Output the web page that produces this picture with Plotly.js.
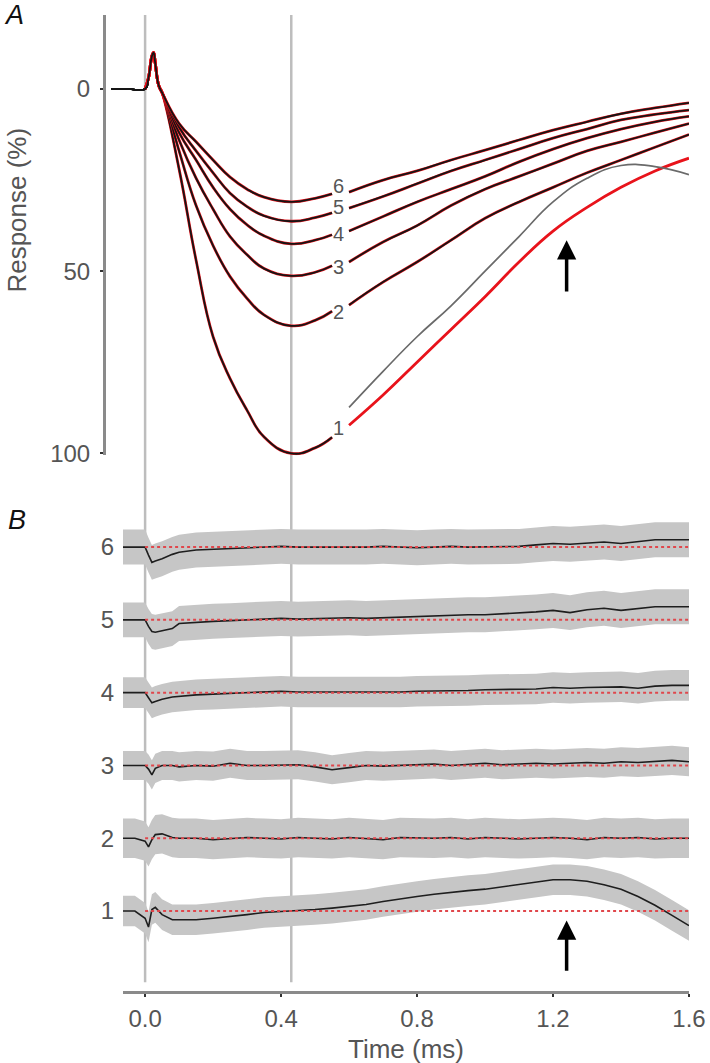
<!DOCTYPE html>
<html>
<head>
<meta charset="utf-8">
<script src="https://cdn.plot.ly/plotly-3.0.1.min.js"></script>
<style>
  html, body { margin: 0; padding: 0; background: #fff; }
  #fig { width: 710px; height: 1063px; }
</style>
</head>
<body>
<div id="fig"></div>
<script>
"use strict";

// panel A : temps (ms), la valeur null coupe la courbe là où le chiffre est posé
var tTop = [-0.1, -0.05, 0, 0.01, 0.02, 0.025, 0.03, 0.04, 0.05, 0.1, 0.15, 0.2, 0.25, 0.3, 0.35, 0.43, 0.5, 0.55,
            0.575, 0.6, 0.7, 0.8, 0.9, 1.0, 1.1, 1.2, 1.3, 1.4, 1.5, 1.6];

// ajustements (rouge), réponse en %
var fit1 = [null, null, 0, -3, -9, -10, -7, -1, 1, 22, 47, 68, 79.5, 88.2, 95.5, 100, 98.5, 95.6,
            null, 92.3, 84, 75, 66, 57, 47.5, 39, 32.5, 27, 22.5, 19];
var fit2 = [null, null, 0, -3, -9, -10, -7, -1, 1, 17, 32, 43, 51.5, 57.5, 62, 65, 63.5, 61,
            null, 59.3, 53, 47.5, 41.5, 35.5, 31, 27, 23, 19.5, 16, 12.5];
var fit3 = [null, null, 0, -3, -9, -10, -7, -1, 1, 14, 24.5, 33, 40.5, 45.5, 49.3, 51.3, 50.3, 48.5,
            null, 47.5, 42, 37.5, 32, 27.5, 24, 20.5, 17, 14.5, 12, 9.5];
var fit4 = [null, null, 0, -3, -9, -10, -7, -1, 1, 12, 19.5, 27, 33, 37.3, 40.3, 42.5, 41.5, 40,
            null, 39, 35, 31, 27.5, 24, 20, 16.5, 13.5, 11, 9, 7.5];
var fit5 = [null, null, 0, -3, -9, -10, -7, -1, 1, 10.5, 17, 23, 28.6, 32.3, 34.8, 36.3, 35.3, 34,
            null, 32.7, 29.5, 26, 22.5, 19.5, 16.5, 13.5, 11, 8.5, 7, 5.8];
var fit6 = [null, null, 0, -3, -9, -10, -7, -1, 1, 9.5, 14.5, 19.5, 24.2, 27.5, 29.7, 31, 30, 28.8,
            null, 28.3, 25, 22.5, 19.5, 16.8, 14, 11.3, 9, 6.8, 5.2, 3.8];

// données mesurées (noir) ; seule la courbe 1 s'écarte de son ajustement
var data1 = [0, 0, 0, -3, -9, -10, -7, -1, 1, 22, 47, 68, 79.5, 88.2, 95.5, 100, 98.5, 95.6,
             null, 87.4, 77.5, 68, 59.5, 50, 40.5, 31, 24.5, 21, 21.3, 23.5];
var data2 = [0, 0].concat(fit2.slice(2));
var data3 = [0, 0].concat(fit3.slice(2));
var data4 = [0, 0].concat(fit4.slice(2));
var data5 = [0, 0].concat(fit5.slice(2));
var data6 = [0, 0].concat(fit6.slice(2));

var curveNames = ['1', '2', '3', '4', '5', '6'];
var labelT = 0.568;
var labelY = [93.1, 61.3, 48.9, 39.8, 32.4, 26.6];

// panel B : résidus (données - ajustement) et écart-type, en %
var tRes = [-0.065, -0.03, 0, 0.01, 0.02, 0.03, 0.05, 0.08, 0.1,
            0.15, 0.2, 0.25, 0.3, 0.35, 0.4, 0.45, 0.5, 0.55, 0.6, 0.65, 0.7, 0.75, 0.8, 0.85, 0.9, 0.95,
            1.0, 1.05, 1.1, 1.15, 1.2, 1.25, 1.3, 1.35, 1.4, 1.45, 1.5, 1.55, 1.6];
var res1 = [0, 0, -1.0, -2.2, 0.2, 0.5, -0.5, -1.2, -1.2,
            -1.2, -1.0, -0.8, -0.5, -0.2, -0.1, 0.1, 0.2, 0.4, 0.6, 0.9, 1.3, 1.7, 2.0, 2.3, 2.6, 2.8,
            3.0, 3.3, 3.6, 4.0, 4.3, 4.3, 4.1, 3.6, 3.0, 2.0, 0.8, -0.6, -2.0];
var res2 = [0, 0, -0.4, -1.2, -0.2, 0.5, 0.6, 0.1, 0,
            0, -0.2, 0, 0.1, 0, -0.1, 0.1, 0, -0.1, 0.1, 0, -0.2, 0.1, 0, 0, 0.1, -0.1,
            0.1, 0, -0.1, 0, 0.1, 0, -0.2, 0.1, 0, 0.1, -0.1, 0, 0];
var res3 = [0, 0, 0, -0.5, -1.3, -0.4, 0, 0, -0.2,
            0, -0.1, 0.3, 0, 0, 0, 0.1, -0.2, -0.6, -0.3, 0, -0.1, 0, 0.1, 0.2, 0, 0.1,
            0.3, 0.1, 0.2, 0.3, 0.2, 0.3, 0.4, 0.3, 0.5, 0.4, 0.5, 0.7, 0.5];
var res4 = [0, 0, 0, -0.7, -1.4, -1.2, -0.9, -0.6, -0.5,
            -0.3, -0.2, -0.1, 0, 0, 0.2, 0.1, 0.1, 0.1, 0.1, 0, 0.1, 0.1, 0.2, 0.2, 0.2, 0.3,
            0.4, 0.4, 0.5, 0.5, 0.7, 0.6, 0.7, 0.8, 0.8, 0.6, 0.9, 1.0, 1.0];
var res5 = [0, 0, 0, -0.9, -1.6, -1.7, -1.5, -1.2, -0.5,
            -0.3, -0.2, -0.1, 0, 0, 0.2, 0.1, 0.2, 0.3, 0.3, 0.2, 0.3, 0.4, 0.4, 0.5, 0.6, 0.7,
            0.7, 0.8, 0.9, 1.1, 1.3, 1.0, 1.4, 1.6, 1.3, 1.5, 1.8, 1.8, 1.8];
var res6 = [0, 0, 0, -1.1, -2.1, -1.9, -1.6, -1.0, -0.7,
            -0.4, -0.3, -0.1, -0.1, 0, 0.1, 0, 0, -0.1, 0, 0, 0.1, 0, -0.1, 0, 0.1, 0,
            0, 0.1, 0.1, 0.3, 0.5, 0.4, 0.5, 0.7, 0.5, 0.8, 1.0, 1.0, 1.0];
var resSd = [2.1, 2.7, 2.0, 2.1, 2.4, 2.4];
var resStep = 10;   // écart vertical entre deux tracés du panel B

var arrowT = 1.24;

var font = 'Liberation Sans, Arial, sans-serif';
var grey = '#555';
var traces = [];

function lineTrace(x, y, color, width) {
  return {
    x: x, y: y, xaxis: 'x2', yaxis: 'y', mode: 'lines',
    line: {color: color, width: width, shape: 'spline', smoothing: 1.3},
    hoverinfo: 'skip', showlegend: false
  };
}

// --- panel A
var fits = [fit1, fit2, fit3, fit4, fit5, fit6];
var datas = [data1, data2, data3, data4, data5, data6];
var cut = tTop.indexOf(0.575);
fits.forEach(function (f, i) {
  traces.push(lineTrace(tTop, f, '#e8131b', 2.8));
  if (i === 0) {
    // la courbe 1 mesurée : noire jusqu'au chiffre, grise ensuite
    traces.push(lineTrace(tTop.slice(0, cut), datas[i].slice(0, cut), '#151515', 1.8));
    traces.push(lineTrace(tTop.slice(cut + 1), datas[i].slice(cut + 1), '#6a6a6a', 1.7));
  } else {
    traces.push(lineTrace(tTop, datas[i], '#151515', 1.8));
  }
});

// --- panel B
var residus = [res1, res2, res3, res4, res5, res6];
residus.forEach(function (r, i) {
  var base = resStep * (i + 1);
  var low = r.map(function (v) { return base + v - resSd[i]; });
  var high = r.map(function (v) { return base + v + resSd[i]; });
  traces.push({x: tRes, y: low, xaxis: 'x', yaxis: 'y2', mode: 'lines',
    line: {width: 0, color: '#c6c6c6'}, hoverinfo: 'skip', showlegend: false});
  traces.push({x: tRes, y: high, xaxis: 'x', yaxis: 'y2', mode: 'lines', fill: 'tonexty',
    fillcolor: '#c6c6c6', line: {width: 0, color: '#c6c6c6'}, hoverinfo: 'skip', showlegend: false});
  traces.push({x: tRes, y: r.map(function (v) { return base + v; }), xaxis: 'x', yaxis: 'y2', mode: 'lines',
    line: {color: '#1e1e1e', width: 1.6}, hoverinfo: 'skip', showlegend: false});
  traces.push({x: [0, 1.6], y: [base, base], xaxis: 'x', yaxis: 'y2', mode: 'lines',
    line: {color: '#e0474c', width: 2, dash: 'dot'}, hoverinfo: 'skip', showlegend: false});
});

// --- annotations
var annots = [];
curveNames.forEach(function (n, i) {
  annots.push({x: labelT, y: labelY[i], xref: 'x2', yref: 'y', text: n, showarrow: false,
    font: {family: font, size: 20, color: grey}});
});
annots.push({x: arrowT, y: 41.5, ax: arrowT, ay: 56, xref: 'x2', yref: 'y', axref: 'x2', ayref: 'y',
  text: '', showarrow: true, arrowhead: 2, arrowsize: 1.1, arrowwidth: 3.5, arrowcolor: '#000'});
annots.push({x: arrowT, y: 8.7, ax: arrowT, ay: 1.6, xref: 'x', yref: 'y2', axref: 'x', ayref: 'y2',
  text: '', showarrow: true, arrowhead: 2, arrowsize: 1.1, arrowwidth: 3.5, arrowcolor: '#000'});
annots.push({x: -0.178, y: 1.0, xref: 'paper', yref: 'paper', xanchor: 'left', yanchor: 'middle',
  text: '<i>A</i>', showarrow: false, font: {family: font, size: 27, color: '#111'}});
annots.push({x: -0.172, y: 0.4826, xref: 'paper', yref: 'paper', xanchor: 'left', yanchor: 'middle',
  text: '<i>B</i>', showarrow: false, font: {family: font, size: 27, color: '#111'}});
annots.push({x: -0.152, y: 0.80, xref: 'paper', yref: 'paper', xanchor: 'center', yanchor: 'middle',
  text: 'Response (%)', textangle: -90, showarrow: false, font: {family: font, size: 26, color: grey}});
annots.push({x: 0.5146, y: -0.0594, xref: 'paper', yref: 'paper', xanchor: 'center', yanchor: 'middle',
  text: 'Time (ms)', showarrow: false, font: {family: font, size: 26, color: grey}});

// lignes verticales grises (début et minimum)
var shapes = [0, 0.43].map(function (t) {
  return {type: 'line', xref: 'x', yref: 'paper', x0: t, x1: t, y0: 0.009, y1: 1,
    layer: 'below', line: {color: '#bdbdbd', width: 2.5}};
});

var layout = {
  width: 710, height: 1063,
  margin: {l: 106, r: 21, t: 15, b: 72},
  paper_bgcolor: '#fff', plot_bgcolor: 'rgba(0,0,0,0)',
  font: {family: font, size: 22, color: grey},
  showlegend: false,
  xaxis: {
    domain: [0.02916, 1], range: [-0.065, 1.6], anchor: 'y2',
    showline: true, linecolor: '#8a8a8a', linewidth: 3,
    ticks: 'outside', ticklen: 3, tickwidth: 2, tickcolor: '#333',
    tickvals: [0, 0.4, 0.8, 1.2, 1.6], ticktext: ['0.0', '0.4', '0.8', '1.2', '1.6'],
    ticklabelstandoff: 1,
    tickfont: {family: font, size: 24, color: grey},
    showgrid: false, zeroline: false
  },
  xaxis2: {
    domain: [0, 1], range: [-0.115, 1.6], anchor: 'y',
    visible: false, showgrid: false, zeroline: false
  },
  yaxis: {
    domain: [0.549, 1], range: [100.5, -20.3], anchor: 'x2',
    showline: true, linecolor: '#8a8a8a', linewidth: 3,
    ticks: 'outside', ticklen: 3, tickwidth: 2, tickcolor: '#333',
    tickvals: [0, 50, 100], ticktext: ['0', '50', '100'],
    ticklabelstandoff: 5,
    tickfont: {family: font, size: 24, color: grey},
    showgrid: false, zeroline: false
  },
  yaxis2: {
    domain: [0, 0.503], range: [-0.99, 66.46], anchor: 'x',
    showline: false, ticks: '',
    tickvals: [10, 20, 30, 40, 50, 60], ticktext: curveNames,
    ticklabelstandoff: 8,
    tickfont: {family: font, size: 24, color: grey},
    showgrid: false, zeroline: false
  },
  shapes: shapes,
  annotations: annots
};

Plotly.newPlot('fig', traces, layout, {staticPlot: true});
</script>
</body>
</html>
